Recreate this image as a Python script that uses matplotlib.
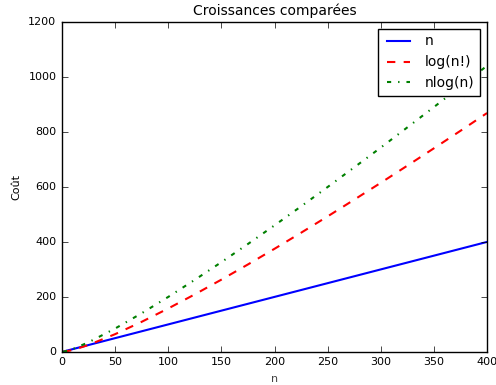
import matplotlib
matplotlib.use('Agg')
import matplotlib.pyplot as plt

plt.style.use('classic')

# valeurs
n_vals = [1, 10, 25, 50, 75, 100, 125, 150, 175, 200, 225, 250, 275, 300, 325, 350, 375, 400]
lin = [1, 10, 25, 50, 75, 100, 125, 150, 175, 200, 225, 250, 275, 300, 325, 350, 375, 400]
logfact = [0, 6.6, 25.2, 64.5, 109.4, 158.0, 209.3, 262.8, 318.1, 375.0, 433.4, 492.9, 553.6, 615.0, 677.4, 740.5, 804.2, 868.8]
nlogn = [0, 10, 35, 85, 140.6, 200, 262.2, 326.4, 392.5, 460.2, 529.3, 599.7, 671.2, 743.1, 816.6, 890.5, 965.2, 1040.8]

fig = plt.figure(figsize=(4.96, 3.85), dpi=100, facecolor='white')
ax = fig.add_axes([0.125, 0.086, 0.857, 0.857])

ax.plot(n_vals, lin, 'b-', lw=1.5, label='n')
ax.plot(n_vals, logfact, 'r--', lw=1.5, label='log(n!)')
ax.plot(n_vals, nlogn, 'g-.', lw=1.5, label='nlog(n)')

ax.set_xlim(0, 400)
ax.set_ylim(0, 1200)
ax.set_title('Croissances comparées', fontsize=10)
ax.set_xlabel('n', fontsize=8, color='#444444')
ax.set_ylabel('Coût', fontsize=8)
ax.tick_params(labelsize=8)
ax.legend(loc='upper right', fontsize=10, handlelength=2.2)

fig.savefig('out.png', dpi=100, facecolor='white')
